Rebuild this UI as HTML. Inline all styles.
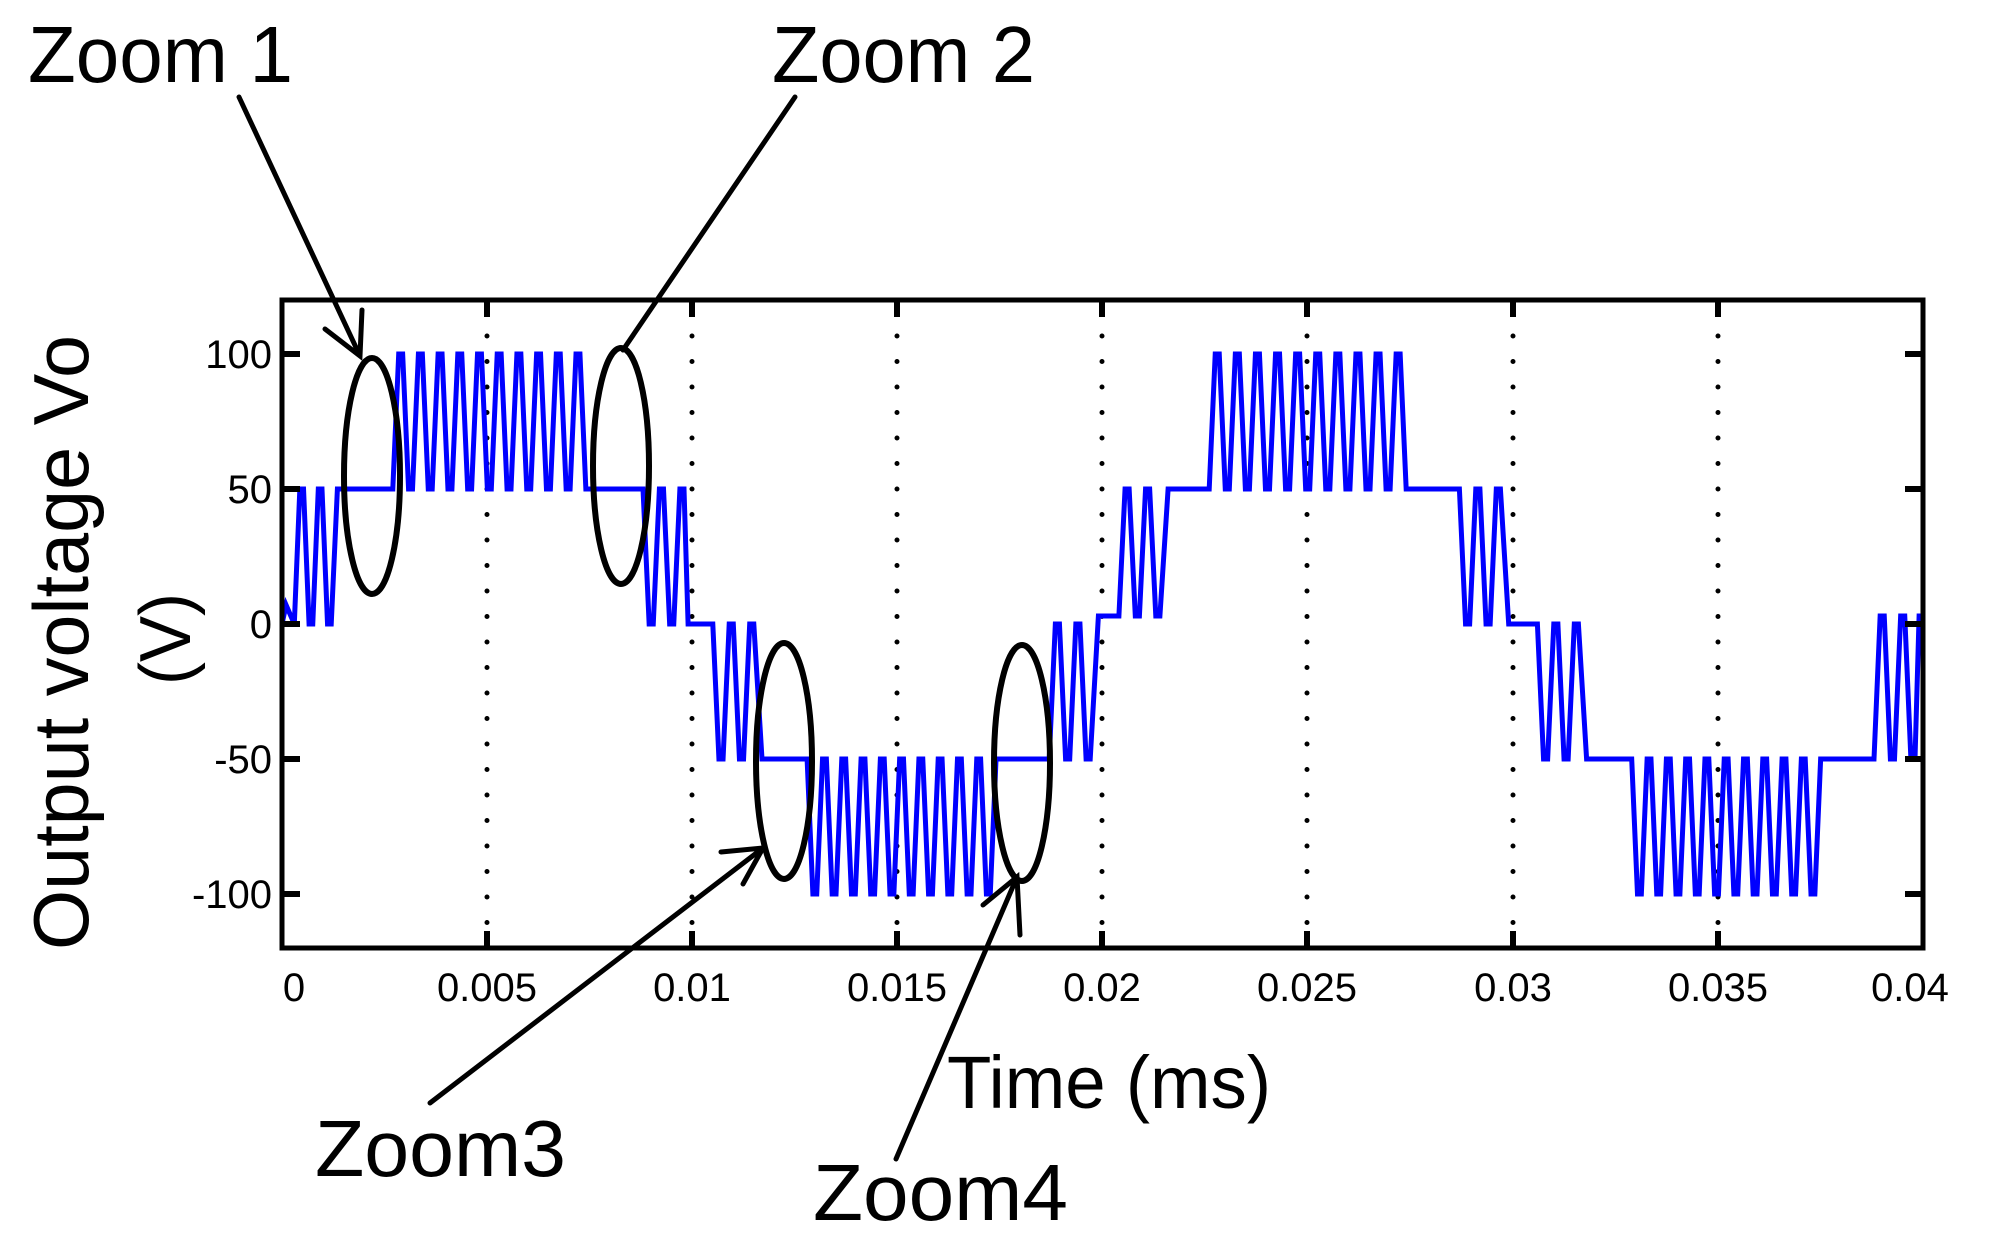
<!DOCTYPE html>
<html><head><meta charset="utf-8"><style>
html,body{margin:0;padding:0;background:#fff;}
svg{display:block;}
text{font-family:"Liberation Sans",sans-serif;fill:#000;}
</style></head><body>
<svg width="1993" height="1242" viewBox="0 0 1993 1242" xmlns="http://www.w3.org/2000/svg">
<rect width="1993" height="1242" fill="#fff"/>
<g stroke="#000" stroke-width="5" stroke-linecap="round" stroke-dasharray="0 25.5">
<line x1="487" y1="948" x2="487" y2="300"/>
<line x1="692" y1="948" x2="692" y2="300"/>
<line x1="897" y1="948" x2="897" y2="300"/>
<line x1="1102" y1="948" x2="1102" y2="300"/>
<line x1="1307" y1="948" x2="1307" y2="300"/>
<line x1="1513" y1="948" x2="1513" y2="300"/>
<line x1="1718" y1="948" x2="1718" y2="300"/>
</g>
<path fill="none" stroke="#0000ff" stroke-width="5" stroke-linejoin="miter" d="M282 624 L286.1 605 L294.3 624
l5.54 -135 l3.69 0 l5.54 135 l3.69 0 l5.54 -135 l3.69 0 l5.54 135 l3.69 0
L337.4 489 L392.8 489
l5.91 -135 l3.94 0 l5.91 135 l3.94 0 l5.91 -135 l3.94 0 l5.91 135 l3.94 0 l5.91 -135 l3.94 0 l5.91 135 l3.94 0 l5.91 -135 l3.94 0 l5.91 135 l3.94 0 l5.91 -135 l3.94 0 l5.91 135 l3.94 0
l5.91 -135 l3.94 0 l5.91 135 l3.94 0 l5.91 -135 l3.94 0 l5.91 135 l3.94 0 l5.91 -135 l3.94 0 l5.91 135 l3.94 0 l5.91 -135 l3.94 0 l5.91 135 l3.94 0 l5.91 -135 l3.94 0 l5.91 135 l3.94 0
L643 489
l6.15 135 l4.1 0 l6.15 -135 l4.1 0 l6.15 135 l4.1 0 l6.15 -135 l4.1 0
L688.1 624 L712.8 624
l6.15 135 l4.1 0 l6.15 -135 l4.1 0 l6.15 135 l4.1 0 l6.15 -135 l4.1 0
L762 759 L807.1 759
l5.78 135 l3.86 0 l5.78 -135 l3.86 0 l5.78 135 l3.86 0 l5.78 -135 l3.86 0 l5.78 135 l3.86 0 l5.78 -135 l3.86 0 l5.78 135 l3.86 0 l5.78 -135 l3.86 0 l5.78 135 l3.86 0 l5.78 -135 l3.86 0
l5.78 135 l3.86 0 l5.78 -135 l3.86 0 l5.78 135 l3.86 0 l5.78 -135 l3.86 0 l5.78 135 l3.86 0 l5.78 -135 l3.86 0 l5.78 135 l3.86 0 l5.78 -135 l3.86 0 l5.78 135 l3.86 0 l5.78 -135 l3.86 0
L1049.2 759
l6.15 -135 l4.1 0 l6.15 135 l4.1 0 l6.15 -135 l4.1 0 l6.15 135 l4.1 0
L1098.4 616 L1118.9 616
l6.15 -127 l4.1 0 l6.15 127 l4.1 0 l6.15 -127 l4.1 0 l6.15 127 l4.1 0
L1168.1 489 L1209.2 489
l6.03 -135 l4.02 0 l6.03 135 l4.02 0 l6.03 -135 l4.02 0 l6.03 135 l4.02 0 l6.03 -135 l4.02 0 l6.03 135 l4.02 0 l6.03 -135 l4.02 0 l6.03 135 l4.02 0 l6.03 -135 l4.02 0 l6.03 135 l4.02 0
l6.03 -135 l4.02 0 l6.03 135 l4.02 0 l6.03 -135 l4.02 0 l6.03 135 l4.02 0 l6.03 -135 l4.02 0 l6.03 135 l4.02 0 l6.03 -135 l4.02 0 l6.03 135 l4.02 0 l6.03 -135 l4.02 0 l6.03 135 l4.02 0
L1459.4 489
l6.15 135 l4.1 0 l6.15 -135 l4.1 0 l6.15 135 l4.1 0 l6.15 -135 l4.1 0
L1508.7 624 L1537.4 624
l6.15 135 l4.1 0 l6.15 -135 l4.1 0 l6.15 135 l4.1 0 l6.15 -135 l4.1 0
L1586.6 759 L1631.7 759
l5.78 135 l3.86 0 l5.78 -135 l3.86 0 l5.78 135 l3.86 0 l5.78 -135 l3.86 0 l5.78 135 l3.86 0 l5.78 -135 l3.86 0 l5.78 135 l3.86 0 l5.78 -135 l3.86 0 l5.78 135 l3.86 0 l5.78 -135 l3.86 0
l5.78 135 l3.86 0 l5.78 -135 l3.86 0 l5.78 135 l3.86 0 l5.78 -135 l3.86 0 l5.78 135 l3.86 0 l5.78 -135 l3.86 0 l5.78 135 l3.86 0 l5.78 -135 l3.86 0 l5.78 135 l3.86 0 l5.78 -135 l3.86 0
L1874 759
l6.15 -143 l4.1 0 l6.15 143 l4.1 0 l6.15 -143 l4.1 0 l6.15 143 l4.1 0
L1919.1 616 L1923 616"/>
<rect x="282" y="300" width="1641" height="648" fill="none" stroke="#000" stroke-width="5"/>
<g stroke="#000" stroke-width="6">
<path d="M487 300v17M692 300v17M897 300v17M1102 300v17M1307 300v17M1513 300v17M1718 300v17
M487 948v-17M692 948v-17M897 948v-17M1102 948v-17M1307 948v-17M1513 948v-17M1718 948v-17
M282 354h18M282 489h18M282 624h18M282 759h18M282 894h18
M1923 354h-18M1923 489h-18M1923 624h-18M1923 759h-18M1923 894h-18"/>
</g>
<g font-size="40" text-anchor="end">
<text x="272" y="368">100</text>
<text x="272" y="503">50</text>
<text x="272" y="638">0</text>
<text x="272" y="773">-50</text>
<text x="272" y="908">-100</text>
</g>
<g font-size="40" text-anchor="middle">
<text x="294" y="1001">0</text>
<text x="487" y="1001">0.005</text>
<text x="692" y="1001">0.01</text>
<text x="897" y="1001">0.015</text>
<text x="1102" y="1001">0.02</text>
<text x="1307" y="1001">0.025</text>
<text x="1513" y="1001">0.03</text>
<text x="1718" y="1001">0.035</text>
<text x="1910" y="1001">0.04</text>
</g>
<text x="947" y="1108" font-size="74" textLength="324" lengthAdjust="spacingAndGlyphs">Time (ms)</text>
<text transform="translate(88,950) rotate(-90)" font-size="78" textLength="615" lengthAdjust="spacingAndGlyphs">Output voltage Vo</text>
<text transform="translate(190,685) rotate(-90)" font-size="72" textLength="92" lengthAdjust="spacingAndGlyphs">(V)</text>
<g font-size="80">
<text x="28" y="82" textLength="265" lengthAdjust="spacingAndGlyphs">Zoom 1</text>
<text x="772" y="82" textLength="263" lengthAdjust="spacingAndGlyphs">Zoom 2</text>
<text x="315" y="1176" textLength="251" lengthAdjust="spacingAndGlyphs">Zoom3</text>
<text x="813" y="1220" textLength="255" lengthAdjust="spacingAndGlyphs">Zoom4</text>
</g>
<g fill="none" stroke="#000" stroke-width="6">
<ellipse cx="372" cy="476" rx="28" ry="118"/>
<ellipse cx="621" cy="466" rx="28" ry="118"/>
<ellipse cx="784" cy="761" rx="28" ry="118"/>
<ellipse cx="1022" cy="763" rx="28" ry="118"/>
</g>
<g fill="none" stroke="#000" stroke-width="5" stroke-linecap="round">
<path d="M239 97L360 356M325 329L360 356L362 310"/>
<path d="M795 97L623 350"/>
<path d="M430 1103L763 848M721 852L763 848L743 884"/>
<path d="M896 1159L1017 877M983 905L1017 877L1020 935"/>
</g>
</svg>
</body></html>
